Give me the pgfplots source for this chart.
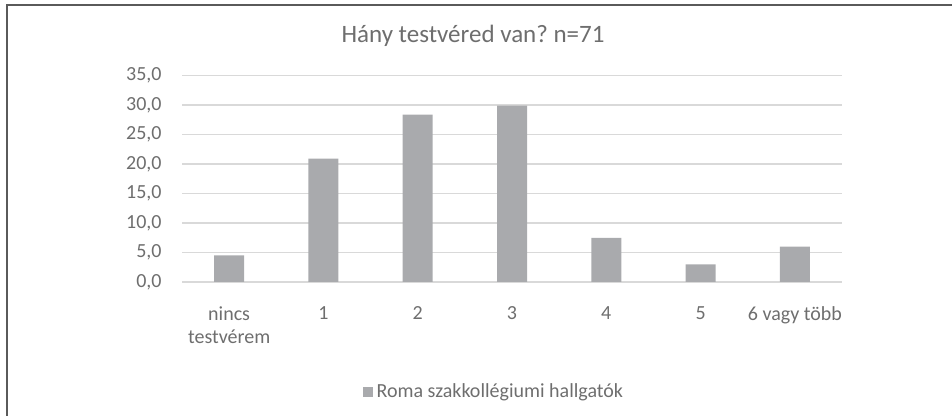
\documentclass[border=0pt]{standalone}
\usepackage{fontspec}
\setmainfont{Carlito}
\usepackage{pgfplots}
\pgfplotsset{compat=1.18}
\definecolor{barc}{HTML}{A9AAAD}
\definecolor{gridc}{HTML}{D9D9D9}
\definecolor{txt}{HTML}{6E6E6E}
\definecolor{frame}{HTML}{5A5A5A}
\begin{document}
\frenchspacing
\begin{tikzpicture}
\useasboundingbox (0pt,0pt) rectangle (476pt,208pt);
% frame (top and left lines only)
\draw[frame, line width=1pt] (3.5pt,0pt) -- (3.5pt,205.5pt) -- (476pt,205.5pt);
\node[txt, font=\fontsize{12.5}{15}\selectfont] at (236.5pt,190pt) {Hány testvéred van? n=71};
\begin{axis}[
  at={(91pt,67pt)}, anchor=south west,
  scale only axis,
  width=330pt, height=103.2pt,
  ybar, bar width=15pt,
  xmin=-0.5, xmax=6.5,
  ymin=0, ymax=35,
  ytick={0,5,...,35},
  xtick=data,
  xticklabels={nincs\\testvérem,1,2,3,4,5,6 vagy több},
  axis line style={draw=none},
  major tick length=0pt,
  ymajorgrids,
  grid style={gridc, line width=0.6pt},
  tick label style={txt, font=\fontsize{10}{11.5}\selectfont},
  xticklabel style={align=center, anchor=north, inner sep=0pt, yshift=-12pt},
  yticklabel style={anchor=east, inner sep=0pt, xshift=-10pt},
  /pgf/number format/.cd, fixed, fixed zerofill, precision=1, use comma, assume math mode=true,
  /pgfplots/.cd,
  legend style={draw=none, fill=none, at={(0.474,-0.533)}, anchor=center,
    font=\fontsize{10}{12}\selectfont, text=txt},
  legend image code/.code={\fill[barc] (0pt,-2.5pt) rectangle (5pt,2.5pt);},
]
\addplot[fill=barc, draw=none] coordinates {
  (0,4.5) (1,20.9) (2,28.4) (3,29.9) (4,7.5) (5,3.0) (6,6.0)
};
\addlegendentry{Roma szakkollégiumi hallgatók}
\end{axis}
\end{tikzpicture}
\end{document}
